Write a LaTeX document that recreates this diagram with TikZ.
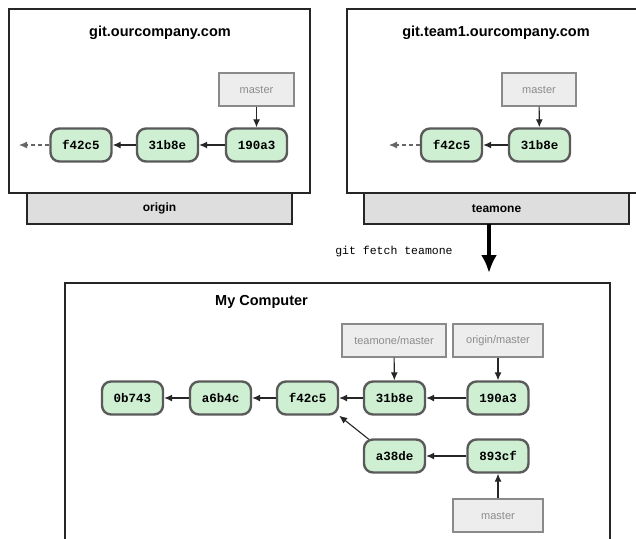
\documentclass[tikz,border=0pt]{standalone}
\usepackage{fontspec}
\setmainfont{Liberation Sans}
\newfontfamily\commitfont{Liberation Mono}
\newfontfamily\cmdfont{Liberation Mono}
\usetikzlibrary{arrows.meta}
\definecolor{commitfill}{HTML}{CFEFD3}
\definecolor{commitborder}{HTML}{5A5A5A}
\definecolor{reffill}{HTML}{EDEDED}
\definecolor{refborder}{HTML}{8A8A8A}
\definecolor{reftext}{HTML}{8C8C8C}
\definecolor{tabfill}{HTML}{DEDEDE}
\begin{document}
\begin{tikzpicture}[x=1pt,y=-1pt,
  commit/.style={draw=commitborder, line width=2.4pt, fill=commitfill, rounded corners=9pt,
    minimum width=61pt, minimum height=33pt, inner sep=0pt,
    font=\commitfont\bfseries\fontsize{12.5}{13}\selectfont},
  refbox/.style={draw=refborder, line width=1.2pt, fill=reffill, minimum height=33pt, inner sep=0pt,
    text=reftext, font=\fontsize{11}{12}\selectfont},
  server/.style={draw=black!85, line width=1.6pt, fill=white, inner sep=0pt},
  tabbox/.style={draw=black!85, line width=1.6pt, fill=tabfill, inner sep=0pt,
    font=\bfseries\fontsize{12}{14}\selectfont},
  title/.style={font=\bfseries\fontsize{14.5}{16}\selectfont, inner sep=0pt},
  link/.style={-{Latex[length=8pt,width=7pt]}, line width=1.1pt, black!85},
  dlink/.style={-{Latex[length=8pt,width=7pt]}, line width=1.1pt, black!60, dash pattern=on 4pt off 3pt}
]
\useasboundingbox (0,0) rectangle (636,538);
\clip (0,0) rectangle (636,538);

% ---------- left server ----------
\node[tabbox, minimum width=265pt, minimum height=31pt] (origin) at (159.5,208.5) {origin};
\node[server, minimum width=301pt, minimum height=184pt] (srvA) at (159.5,101) {};
\node[title] (titleA) at (160,33) {git.ourcompany.com};
\node[refbox, minimum width=75pt] (masterA) at (256.5,89.5) {master};
\node[commit] (a190) at (256.5,145) {190a3};
\node[commit] (a31b) at (167.5,145) {31b8e};
\node[commit] (af42) at (81,145) {f42c5};
\coordinate (aend) at (19,145);
\draw[link] (masterA) -- (a190);
\draw[link] (a190) -- (a31b);
\draw[link] (a31b) -- (af42);
\draw[dlink] (af42) -- (aend);

% ---------- right server ----------
\node[tabbox, minimum width=265pt, minimum height=31pt] (teamone) at (496.5,208.5) {teamone};
\node[server, minimum width=320pt, minimum height=184pt] (srvB) at (507,101) {};
\node[title] (titleB) at (496,33) {git.team1.ourcompany.com};
\node[refbox, minimum width=74pt] (masterB) at (539,89.5) {master};
\node[commit] (b31b) at (539.5,145) {31b8e};
\node[commit] (bf42) at (451.5,145) {f42c5};
\coordinate (bend) at (389,145);
\draw[link] (masterB) -- (b31b);
\draw[link] (b31b) -- (bf42);
\draw[dlink] (bf42) -- (bend);

% ---------- fetch arrow ----------
\coordinate (fetchtop) at (489,224);
\coordinate (fetchtip) at (489,273);
\draw[-{Latex[length=18pt,width=16pt]}, line width=3.5pt, black] (fetchtop) -- (fetchtip);
\node[font=\cmdfont\fontsize{11.5}{13}\selectfont, inner sep=0pt] (cmd) at (394,252) {git fetch teamone};

% ---------- my computer ----------
\node[server, minimum width=545pt, minimum height=280pt, anchor=north west] (mine) at (64,282) {};
\node[title, anchor=west] (titleC) at (215,302) {My Computer};
\node[commit] (c0b7) at (132.5,398) {0b743};
\node[commit] (ca6b) at (220.5,398) {a6b4c};
\node[commit] (cf42) at (307.5,398) {f42c5};
\node[commit] (c31b) at (394.5,398) {31b8e};
\node[commit] (c190) at (498,398) {190a3};
\node[commit] (ca38) at (394.5,456) {a38de};
\node[commit] (c893) at (498,456) {893cf};
\node[refbox, minimum width=104pt] (tmaster) at (394,340.5) {teamone/master};
\node[refbox, minimum width=90pt] (omaster) at (498,340.5) {origin/master};
\node[refbox, minimum width=90pt] (lmaster) at (498,515.5) {master};
\draw[link] (tmaster) -- (c31b);
\draw[link] (omaster) -- (c190);
\draw[link] (lmaster) -- (c893);
\draw[link] (c190) -- (c31b);
\draw[link] (c31b) -- (cf42);
\draw[link] (cf42) -- (ca6b);
\draw[link] (ca6b) -- (c0b7);
\draw[link] (c893) -- (ca38);
\draw[link] (ca38.north west) ++(6,1) -- (cf42.south east);
\end{tikzpicture}
\end{document}
